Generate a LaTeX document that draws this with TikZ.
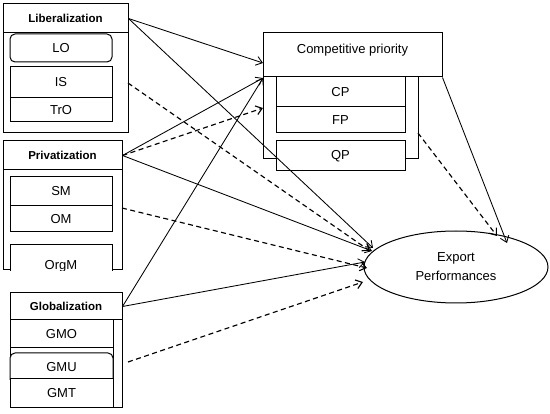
\documentclass[tikz,border=0pt]{standalone}
\usepackage{fontspec}
\setmainfont{Liberation Sans}
\usetikzlibrary{arrows.meta,shapes.geometric}
\begin{document}
\begin{tikzpicture}[x=1pt,y=-1pt,
  box/.style={draw,line width=1pt,fill=white,inner sep=0pt,font=\fontsize{13}{15}\selectfont},
  head/.style={box,font=\fontsize{11.5}{13}\selectfont\bfseries},
  link/.style={line width=0.85pt,-{Straight Barb[length=6pt,width=9pt]}},
  dlink/.style={link,line width=1.15pt,dash pattern=on 5pt off 3.5pt},
  rbox/.style={box,rounded corners=5pt}
]
\useasboundingbox (0,0) rectangle (550,414);
% ---------- Liberalization
\node[box,minimum width=125pt,minimum height=129pt] (libout) at (65.5,68.5) {};
\node[head,minimum width=125pt,minimum height=29pt] (libhead) at (65.5,18.5) {Liberalization};
\node[rbox,minimum width=102pt,minimum height=28pt] (lo) at (61,48) {LO};
\node[box,minimum width=102pt,minimum height=31pt] (is) at (61,82.5) {IS};
\node[box,minimum width=102pt,minimum height=24pt] (tro) at (61,110) {TrO};
% ---------- Privatization
\node[box,minimum width=119pt,minimum height=129pt] (privout) at (62.5,205.5) {};
\node[head,minimum width=119pt,minimum height=29pt] (privhead) at (62.5,155.5) {Privatization};
\node[box,minimum width=102pt,minimum height=29pt] (sm) at (61,191.5) {SM};
\node[box,minimum width=102pt,minimum height=26pt] (om) at (61,219) {OM};
\begin{scope}
\clip (0,0) rectangle (550,270.5);
\node[box,minimum width=102pt,minimum height=30pt,text depth=0pt] (orgm) at (61,260) {\raisebox{-9pt}{OrgM}};
\end{scope}
% ---------- Globalization
\node[box,minimum width=112pt,minimum height=115pt] (globout) at (66,350.5) {};
\node[head,minimum width=112pt,minimum height=27pt] (globhead) at (66,306.5) {Globalization};
\draw[line width=1pt] (113,320) -- (113,408);
\node[box,minimum width=103pt,minimum height=28pt] (gmo) at (61.5,334) {GMO};
\begin{scope}
\clip (0,350) rectangle (550,380);
\node[rbox,minimum width=103pt,minimum height=40pt] (gmuframe) at (61.5,373) {};
\end{scope}
\node[inner sep=0pt,font=\fontsize{13}{15}\selectfont] (gmu) at (61.5,367) {GMU};
\node[box,minimum width=103pt,minimum height=29pt] (gmt) at (61.5,393.5) {GMT};
% ---------- Competitive priority
\node[box,minimum width=155pt,minimum height=82pt] (cpframe) at (340.5,118) {};
\node[box,minimum width=179pt,minimum height=44pt,text depth=12pt] (cphead) at (352.5,55) {Competitive priority};
\node[box,minimum width=129pt,minimum height=30pt] (cp) at (340.5,92) {CP};
\node[box,minimum width=129pt,minimum height=26pt] (fp) at (340.5,120) {FP};
\node[box,minimum width=129pt,minimum height=30pt] (qp) at (340.5,156) {QP};
% ---------- Export performances
\node[draw,line width=1pt,ellipse,minimum width=184pt,minimum height=72pt,inner sep=0pt,
  align=center,font=\fontsize{13}{19}\selectfont] (ep) at (456,267) {Export\\Performances};
% ---------- connector ends
\coordinate (isout) at (128,83);
\coordinate (omout) at (122,208);
\coordinate (gmuout) at (128,362);
\coordinate (cpfout) at (418,133);
\coordinate (cpA) at (263,63);
\coordinate (cpB) at (263,78);
\coordinate (cpC) at (263,108);
\coordinate (epA) at (373,248);
\coordinate (epB) at (370,251);
\coordinate (epC) at (372,251);
\coordinate (epD) at (367,268);
\coordinate (epE) at (365,262);
\coordinate (epF) at (363,282);
\coordinate (epG) at (507,243);
\coordinate (epH) at (497,236);
% ---------- connectors
\draw[link] (libhead.east) -- (cpA);
\draw[link] (libhead.east) -- (epA);
\draw[dlink] (isout) -- (epB);
\draw[link] (privhead.east) -- (cpB);
\draw[dlink] (privhead.east) -- (cpC);
\draw[link] (privhead.east) -- (epC);
\draw[dlink] (omout) -- (epD);
\draw[link] (globhead.east) -- (cpB);
\draw[link] (globhead.east) -- (epE);
\draw[dlink] (gmuout) -- (epF);
\draw[link] (cphead.south east) -- (epG);
\draw[dlink] (cpfout) -- (epH);
\end{tikzpicture}
\end{document}
